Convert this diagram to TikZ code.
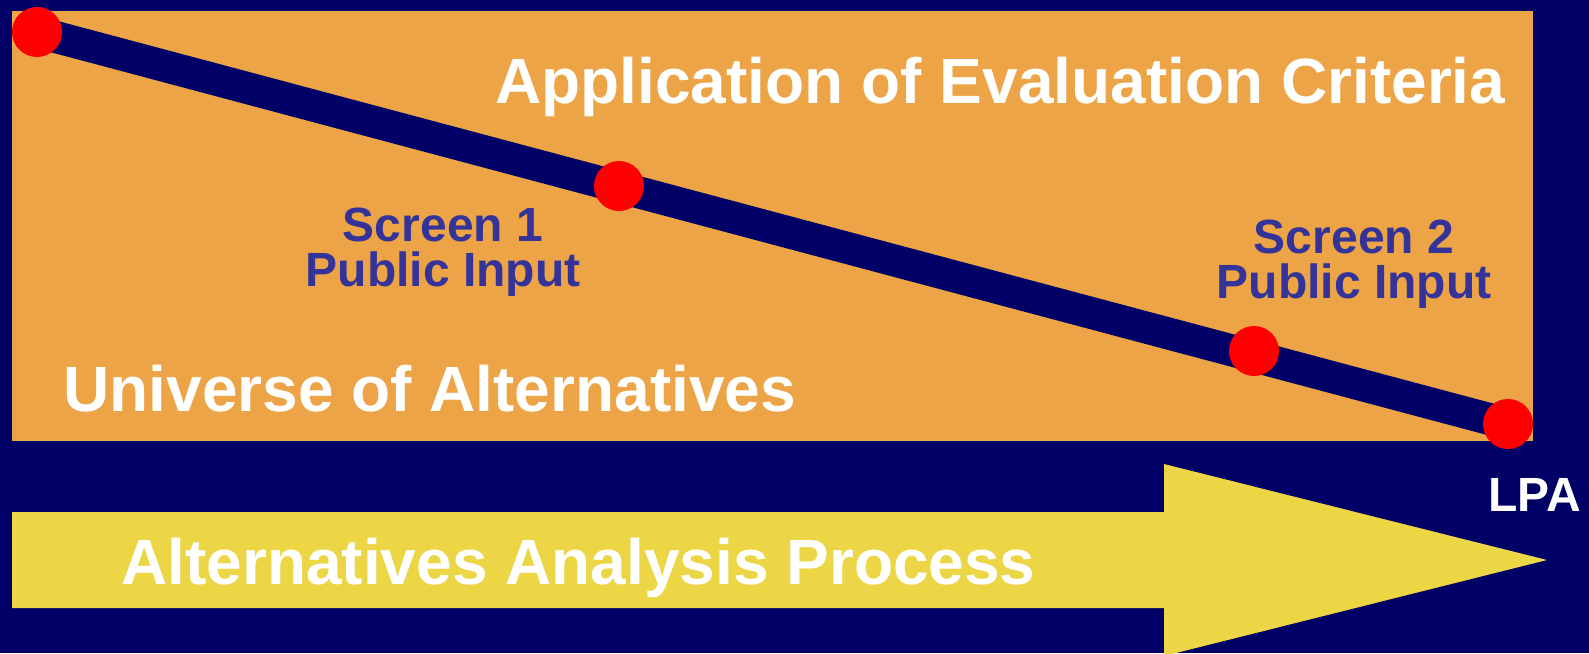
\documentclass[tikz,border=0pt]{standalone}
\usepackage{fontspec}
\setmainfont{Liberation Sans}
\definecolor{SlideNavy}{RGB}{0,0,102}
\definecolor{SlideOrange}{RGB}{236,164,70}
\definecolor{SlideYellow}{RGB}{236,214,70}
\definecolor{SlideBlue}{RGB}{51,51,153}
\def\SlideNavy{SlideNavy}
\def\SlideOrange{SlideOrange}
\def\SlideYellow{SlideYellow}
\def\SlideBlue{SlideBlue}

\begin{document}
\begin{tikzpicture}
    [x=0.5pt,y=-0.5pt,
    dot/.style={circle,fill=red,inner sep=0pt,minimum size=25pt},
    title/.style={text=white,font=\fontsize{32}{38}\selectfont\bfseries,inner sep=0pt,anchor=base west},
    screen/.style={text=\SlideBlue,font=\fontsize{24}{22.5}\selectfont\bfseries,align=center,inner sep=0pt,anchor=base},
    ]
    \useasboundingbox (0,0) rectangle (1589,653);
    \clip (0,0) rectangle (1589,653);
    \fill[\SlideNavy] (0,0) rectangle (1589,653);
    \fill[\SlideOrange] (12,11) rectangle (1533,441);
    % path of the screens
    \coordinate (p1) at (37,32);
    \coordinate (p2) at (619,186);
    \coordinate (p3) at (1254,351);
    \coordinate (p4) at (1508,424);
    \draw[\SlideNavy, line width=16pt] (p1) -- (p4);
    \foreach \p in {p1,p2,p3,p4}
      \node[dot] (d\p) at (\p) {};
    \node[title] (crit) at (495,103) {Application of Evaluation Criteria};
    \node[title] (univ) at (63,411) {Universe of Alternatives};
    \node[screen] (scr1) at (443,286) {Screen 1\\Public Input};
    \node[screen] (scr2) at (1354,298) {Screen 2\\Public Input};
    \node[title, font=\fontsize{24}{28}\selectfont\bfseries] (lpa) at (1488,511) {LPA};
    % process arrow
    \fill[\SlideYellow] (12,512) -- (1164,512) -- (1164,464) -- (1547,560)
      -- (1164,656) -- (1164,608) -- (12,608) -- cycle;
    \node[title] (proc) at (121,584) {Alternatives Analysis Process};
  \end{tikzpicture}
\end{document}
